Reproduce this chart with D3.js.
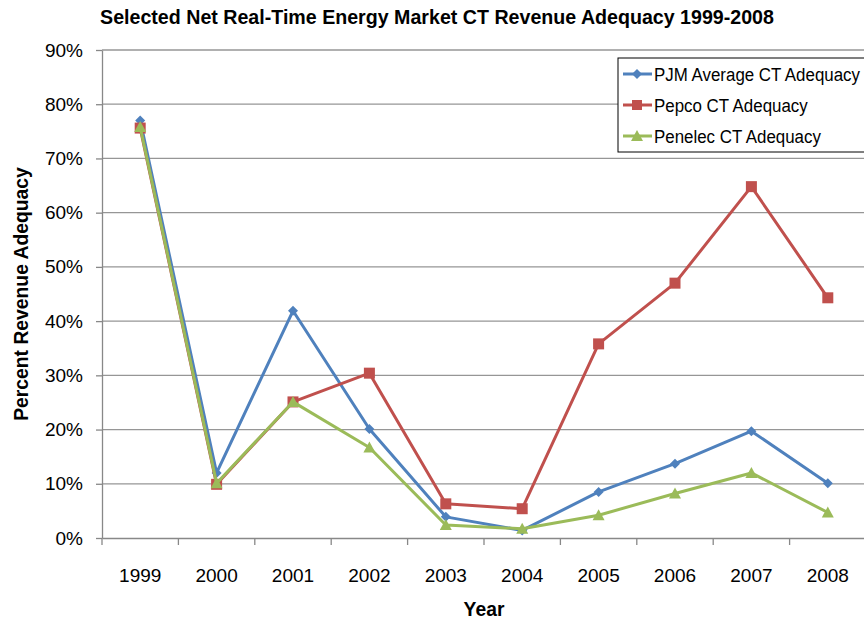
<!DOCTYPE html>
<html>
<head>
<meta charset="utf-8">
<script src="https://cdn.jsdelivr.net/npm/d3@7"></script>
<style>
  body { margin: 0; background: #fff; }
  svg { display: block; font-family: "Liberation Sans", Arial, sans-serif; }
</style>
</head>
<body>
<svg id="chart" width="864" height="623"></svg>
<script>
// chart data
const years = ['1999', '2000', '2001', '2002', '2003', '2004', '2005', '2006', '2007', '2008'];
const pjmAvg = [77.0, 12.0, 41.9, 20.1, 3.9, 1.4, 8.5, 13.7, 19.7, 10.1];
const pepco = [75.6, 9.9, 25.1, 30.4, 6.3, 5.4, 35.8, 47.0, 64.8, 44.3];
const penelec = [75.8, 10.1, 25.1, 16.7, 2.4, 1.7, 4.2, 8.2, 12.0, 4.7];
const yTicks = [0, 10, 20, 30, 40, 50, 60, 70, 80, 90];

const series = [
    { name: 'PJM Average CT Adequacy', values: pjmAvg, color: '#4F81BD', shape: 'diamond' },
    { name: 'Pepco CT Adequacy', values: pepco, color: '#C0504D', shape: 'square' },
    { name: 'Penelec CT Adequacy', values: penelec, color: '#9BBB59', shape: 'triangle' }
];

const svg = d3.select('#chart');
const margin = { left: 102, right: -2, top: 50, bottom: 85 };
const width = 864, height = 623;

const x = d3.scaleBand().domain(years).range([margin.left, width - margin.right]);
const y = d3.scaleLinear().domain([0, 90]).range([height - margin.bottom, margin.top]);

// squeeze text horizontally to mimic a narrow font
function narrow(text, x0, y0, k, rotate) {
    text.attr('x', 0).attr('y', 0)
        .attr('transform', `translate(${x0},${y0})` + (rotate ? ` rotate(${rotate})` : '') + ` scale(${k},1)`);
    return text;
}

// gridlines
svg.append('g')
    .selectAll('line')
    .data(yTicks.slice(1))
    .enter()
    .append('line')
    .attr('x1', margin.left).attr('x2', width)
    .attr('y1', d => y(d)).attr('y2', d => y(d))
    .attr('stroke', '#969696').attr('stroke-width', 1.3);

// y axis
const yAxis = svg.append('g')
    .attr('transform', `translate(${margin.left},0)`)
    .call(d3.axisLeft(y).tickValues(yTicks).tickFormat(d => d + '%').tickSize(6).tickSizeOuter(0));
yAxis.select('.domain').attr('stroke', '#888').attr('stroke-width', 1.3);
yAxis.selectAll('.tick line').attr('stroke', '#888').attr('stroke-width', 1.3);
yAxis.selectAll('text').attr('font-size', 19).attr('fill', '#000').attr('x', -19).attr('font-family', 'inherit');

// x axis
const xAxis = svg.append('g')
    .attr('transform', `translate(0,${y(0)})`)
    .call(d3.axisBottom(x).tickSize(0).tickSizeOuter(0));
xAxis.select('.domain').attr('stroke', '#888').attr('stroke-width', 1.3);
xAxis.selectAll('text').attr('font-size', 19).attr('fill', '#000').attr('dy', 0).attr('y', 44).attr('font-family', 'inherit');

// x tick marks at band boundaries
svg.append('g')
    .selectAll('line')
    .data(years)
    .enter()
    .append('line')
    .attr('x1', d => x(d)).attr('x2', d => x(d))
    .attr('y1', y(0)).attr('y2', y(0) + 7)
    .attr('stroke', '#888').attr('stroke-width', 1.3);

const cx = d => x(d) + x.bandwidth() / 2;

function marker(g, shape, color, s) {
    if (shape === 'diamond') {
        g.append('path').attr('d', `M0,${-s}L${s},0L0,${s}L${-s},0Z`).attr('fill', color);
    } else if (shape === 'square') {
        g.append('rect').attr('x', -s).attr('y', -s).attr('width', 2 * s).attr('height', 2 * s).attr('fill', color);
    } else {
        g.append('path').attr('d', `M0,${-s - 1}L${s + 1},${s}L${-s - 1},${s}Z`).attr('fill', color);
    }
}

// lines + markers
series.forEach(s => {
    const line = d3.line().x((d, i) => cx(years[i])).y(d => y(d));
    svg.append('path')
        .datum(s.values)
        .attr('d', line)
        .attr('fill', 'none')
        .attr('stroke', s.color)
        .attr('stroke-width', 3)
        .attr('stroke-linejoin', 'round');
    s.values.forEach((v, i) => {
        const g = svg.append('g').attr('transform', `translate(${cx(years[i])},${y(v)})`);
        marker(g, s.shape, s.color, s.shape === 'square' ? 5.5 : 5);
    });
});

// title
narrow(svg.append('text'), 437, 24, 0.935, 0)
    .attr('text-anchor', 'middle')
    .attr('font-size', 21).attr('font-weight', 'bold')
    .text('Selected Net Real-Time Energy Market CT Revenue Adequacy 1999-2008');

// axis titles
narrow(svg.append('text'), 28, 294, 0.92, -90)
    .attr('text-anchor', 'middle')
    .attr('font-size', 21).attr('font-weight', 'bold')
    .text('Percent Revenue Adequacy');

narrow(svg.append('text'), 484, 616, 0.92, 0)
    .attr('text-anchor', 'middle')
    .attr('font-size', 21).attr('font-weight', 'bold')
    .text('Year');

// legend
const legend = svg.append('g').attr('transform', 'translate(618,58)');
legend.append('rect')
    .attr('x', 0).attr('y', 0).attr('width', 252).attr('height', 94)
    .attr('fill', '#fff').attr('stroke', '#000').attr('stroke-width', 1);
series.forEach((s, i) => {
    const ly = 16 + i * 31;
    legend.append('line')
        .attr('x1', 5).attr('x2', 34).attr('y1', ly).attr('y2', ly)
        .attr('stroke', s.color).attr('stroke-width', 3);
    const g = legend.append('g').attr('transform', `translate(19,${ly})`);
    marker(g, s.shape, s.color, 5);
    narrow(legend.append('text'), 36, ly + 7, 0.89, 0)
        .attr('font-size', 19)
        .text(s.name);
});
</script>
</body>
</html>
